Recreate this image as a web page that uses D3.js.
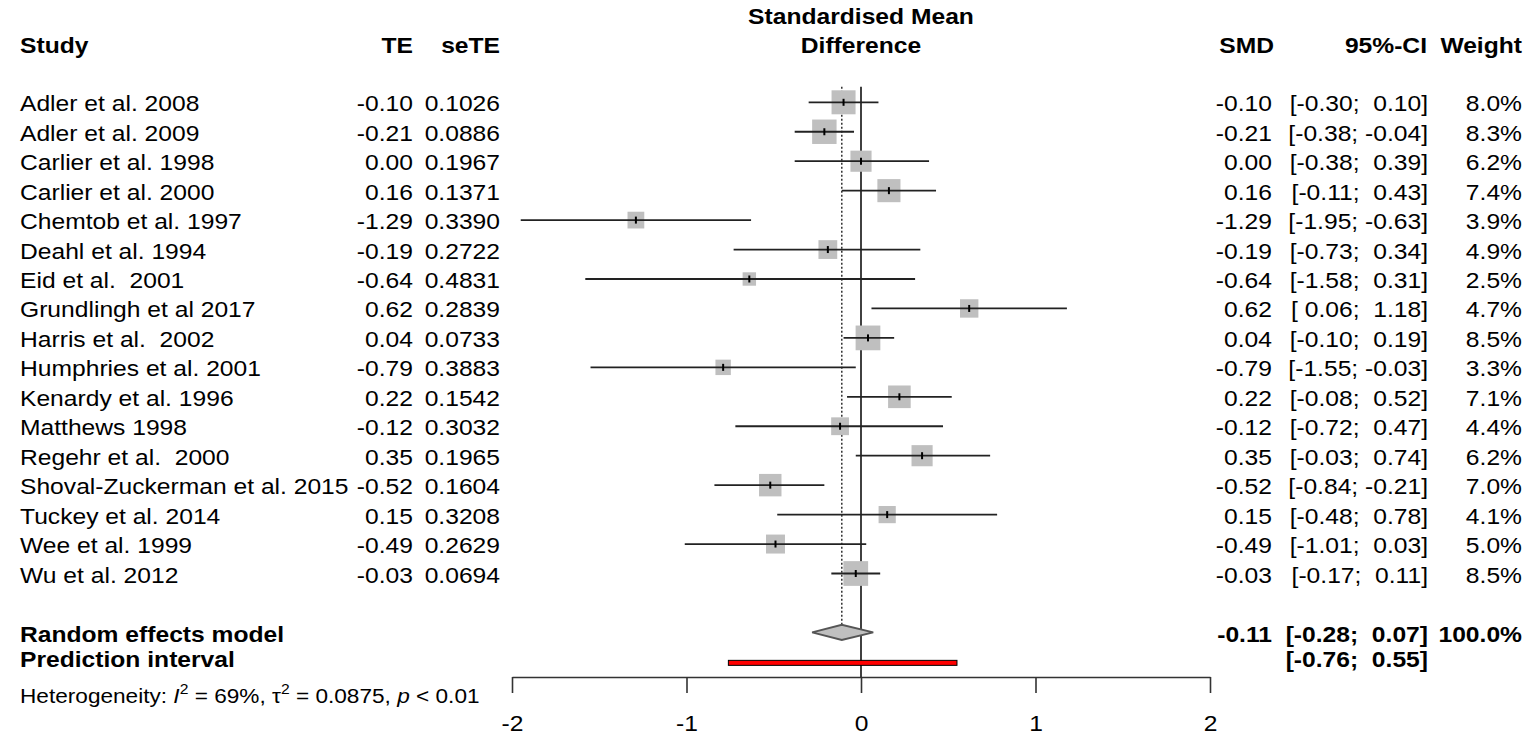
<!DOCTYPE html>
<html>
<head>
<meta charset="utf-8">
<script src="https://cdn.jsdelivr.net/npm/d3@7"></script>
<style>
  body { margin: 0; background: #fff; }
  svg text { font-family: "Liberation Sans", Arial, sans-serif; white-space: pre; fill: #000; }
</style>
</head>
<body>
<svg id="forest" width="1535" height="747"></svg>
<script>
// study level data
const studies = [
  "Adler et al. 2008", "Adler et al. 2009", "Carlier et al. 1998", "Carlier et al. 2000",
  "Chemtob et al. 1997", "Deahl et al. 1994", "Eid et al.  2001", "Grundlingh et al 2017",
  "Harris et al.  2002", "Humphries et al. 2001", "Kenardy et al. 1996", "Matthews 1998",
  "Regehr et al.  2000", "Shoval-Zuckerman et al. 2015", "Tuckey et al. 2014",
  "Wee et al. 1999", "Wu et al. 2012"
];
const te = [-0.10, -0.21, 0.00, 0.16, -1.29, -0.19, -0.64, 0.62, 0.04, -0.79, 0.22, -0.12, 0.35, -0.52, 0.15, -0.49, -0.03];
const seTE = [0.1026, 0.0886, 0.1967, 0.1371, 0.3390, 0.2722, 0.4831, 0.2839, 0.0733, 0.3883, 0.1542, 0.3032, 0.1965, 0.1604, 0.3208, 0.2629, 0.0694];
const ciLower = [-0.30, -0.38, -0.38, -0.11, -1.95, -0.73, -1.58, 0.06, -0.10, -1.55, -0.08, -0.72, -0.03, -0.84, -0.48, -1.01, -0.17];
const ciUpper = [0.10, -0.04, 0.39, 0.43, -0.63, 0.34, 0.31, 1.18, 0.19, -0.03, 0.52, 0.47, 0.74, -0.21, 0.78, 0.03, 0.11];
const weights = [8.0, 8.3, 6.2, 7.4, 3.9, 4.9, 2.5, 4.7, 8.5, 3.3, 7.1, 4.4, 6.2, 7.0, 4.1, 5.0, 8.5];

// pooled results
const reEstimate = -0.11, reLower = -0.28, reUpper = 0.07, reWeight = 100.0;
const piLower = -0.76, piUpper = 0.55;
const i2 = "69%", tau2 = "0.0875", pText = "< 0.01";
const xTicks = [-2, -1, 0, 1, 2];

const svg = d3.select("#forest");
const FS = 22, SX = 1.12;

const x = d3.scaleLinear().domain([-2, 2]).range([512, 1210]);
const y = d3.scaleLinear().domain([0, 16]).range([102.3, 573.5]);
const yRE = y(18), yPI = y(19) + 1;
const axisY = 677;
const boxSize = d3.scaleSqrt().domain([0, 8]).range([0, 24]);

const f2 = v => (v < 0 ? "" : " ") + v.toFixed(2);
const ciText = (lo, hi) => "[" + f2(lo) + "; " + f2(hi) + "]";

function label(g, str, px, py, anchor, bold, size) {
  return g.append("text")
    .attr("transform", `translate(${px},${py}) scale(${SX},1)`)
    .attr("text-anchor", anchor)
    .attr("font-size", size || FS)
    .attr("font-weight", bold ? "bold" : "normal")
    .text(str);
}

// headers
const head = svg.append("g");
label(head, "Study", 20, 53, "start", true);
label(head, "TE", 413, 53, "end", true);
label(head, "seTE", 500, 53, "end", true);
label(head, "Standardised Mean", x(0), 24, "middle", true);
label(head, "Difference", x(0), 53, "middle", true);
label(head, "SMD", 1274, 53, "end", true);
label(head, "95%-CI", 1427, 53, "end", true);
label(head, "Weight", 1522, 53, "end", true);

// left and right text columns
const rows = svg.append("g");
studies.forEach((s, i) => {
  const by = y(i) + 9;
  label(rows, s, 20, by, "start", false);
  label(rows, te[i].toFixed(2), 413, by, "end", false);
  label(rows, seTE[i].toFixed(4), 500, by, "end", false);
  label(rows, te[i].toFixed(2), 1272, by, "end", false);
  label(rows, ciText(ciLower[i], ciUpper[i]), 1428, by, "end", false);
  label(rows, weights[i].toFixed(1) + "%", 1522, by, "end", false);
});

// summary rows
label(rows, "Random effects model", 20, 642, "start", true);
label(rows, reEstimate.toFixed(2), 1272, 642, "end", true);
label(rows, ciText(reLower, reUpper), 1428, 642, "end", true);
label(rows, reWeight.toFixed(1) + "%", 1522, 642, "end", true);
label(rows, "Prediction interval", 20, 667, "start", true);
label(rows, ciText(piLower, piUpper), 1428, 667, "end", true);

// heterogeneity line
const het = rows.append("text")
  .attr("transform", `translate(20,703) scale(${SX},1)`)
  .attr("font-size", 20.2);
het.append("tspan").text("Heterogeneity: ");
het.append("tspan").attr("font-style", "italic").text("I");
het.append("tspan").attr("font-size", 14).attr("dy", -9).text("2");
het.append("tspan").attr("dy", 9).text(" = " + i2 + ", \u03c4");
het.append("tspan").attr("font-size", 14).attr("dy", -9).text("2");
het.append("tspan").attr("dy", 9).text(" = " + tau2 + ", ");
het.append("tspan").attr("font-style", "italic").text("p");
het.append("tspan").text(" " + pText);

// reference lines
const plot = svg.append("g");
plot.append("line")
  .attr("x1", x(0)).attr("x2", x(0))
  .attr("y1", 86.7).attr("y2", axisY)
  .attr("stroke", "#111").attr("stroke-width", 1.6);
plot.append("line")
  .attr("x1", x(reEstimate)).attr("x2", x(reEstimate))
  .attr("y1", 86.7).attr("y2", yRE - 7.5)
  .attr("stroke", "#222").attr("stroke-width", 1.4)
  .attr("stroke-dasharray", "2,2");

// study squares and CIs
const idx = d3.range(studies.length);
plot.selectAll("rect.box")
  .data(idx)
  .join("rect")
  .attr("class", "box")
  .attr("x", i => x(te[i]) - boxSize(weights[i]) / 2)
  .attr("y", i => y(i) - boxSize(weights[i]) / 2)
  .attr("width", i => boxSize(weights[i]))
  .attr("height", i => boxSize(weights[i]))
  .attr("fill", "#bfbfbf");

plot.selectAll("line.ci")
  .data(idx)
  .join("line")
  .attr("class", "ci")
  .attr("x1", i => x(ciLower[i])).attr("x2", i => x(ciUpper[i]))
  .attr("y1", i => y(i)).attr("y2", i => y(i))
  .attr("stroke", "#222").attr("stroke-width", 1.8);

plot.selectAll("line.est")
  .data(idx)
  .join("line")
  .attr("class", "est")
  .attr("x1", i => x(te[i])).attr("x2", i => x(te[i]))
  .attr("y1", i => y(i) - 3.5).attr("y2", i => y(i) + 3.5)
  .attr("stroke", "#000").attr("stroke-width", 2);

// pooled diamond
const dh = 7.5;
plot.append("polygon")
  .attr("points", [
    [x(reLower), yRE], [x(reEstimate), yRE - dh],
    [x(reUpper), yRE], [x(reEstimate), yRE + dh]
  ].map(p => p.join(",")).join(" "))
  .attr("fill", "#bfbfbf").attr("stroke", "#555").attr("stroke-width", 2);

// prediction interval bar
plot.append("rect")
  .attr("x", x(piLower)).attr("y", yPI - 2.5)
  .attr("width", x(piUpper) - x(piLower)).attr("height", 5)
  .attr("fill", "#ff0000").attr("stroke", "#000").attr("stroke-width", 1);

// x axis
const axis = svg.append("g")
  .attr("transform", `translate(0,${axisY})`)
  .call(d3.axisBottom(x).tickValues(xTicks).tickSize(16).tickSizeOuter(0)
    .tickPadding(22).tickFormat(d3.format("d")));
axis.select(".domain").attr("stroke", "#333").attr("stroke-width", 1.6);
axis.selectAll(".tick line").attr("stroke", "#333").attr("stroke-width", 1.6);
axis.selectAll(".tick text")
  .attr("font-size", FS)
  .attr("font-family", "Liberation Sans, Arial, sans-serif")
  .attr("fill", "#000")
  .attr("transform", `scale(${SX},1)`)
  .text(d => d < 0 ? "-" + Math.abs(d) : d);
</script>
</body>
</html>
